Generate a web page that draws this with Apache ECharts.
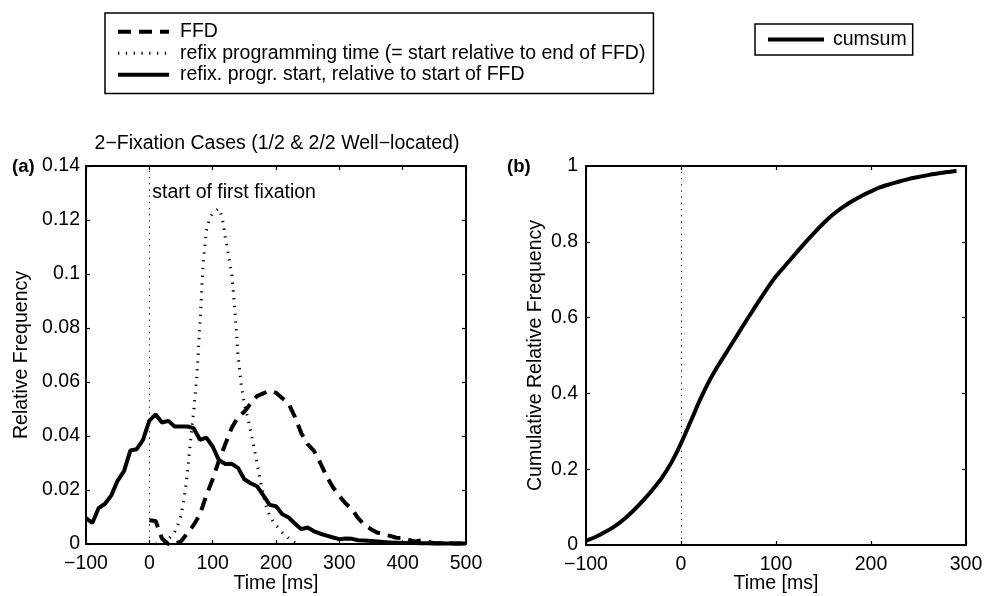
<!DOCTYPE html>
<html>
<head>
<meta charset="utf-8">
<script src="https://cdn.jsdelivr.net/npm/echarts@6/dist/echarts.min.js"></script>
<style>
html, body { margin: 0; padding: 0; background: #fff; }
#chart { width: 986px; height: 596px; }
</style>
</head>
<body>
<div id="chart"></div>
<script>
// Time bins (ms) for the refixation start distribution, relative to FFD onset
const startTimes = [-100, -90, -80, -70, -60, -50, -40, -30, -20, -10,
  0, 10, 20, 30, 40, 50, 60, 70, 80, 90,
  100, 110, 120, 130, 140, 150, 160, 170, 180, 190,
  200, 210, 220, 230, 240, 250, 260, 270, 280, 290,
  300, 310, 320, 330, 340, 350, 360, 370, 380, 390,
  400, 410, 420, 430, 440, 450, 460, 470, 480, 490, 500];
const refixStartFreq = [0.0096, 0.0078, 0.0133, 0.0149, 0.018, 0.0235, 0.027, 0.0346, 0.0351, 0.0386,
  0.0457, 0.048, 0.045, 0.0456, 0.0435, 0.0435, 0.0435, 0.0429, 0.0386, 0.0394,
  0.0361, 0.031, 0.0296, 0.0297, 0.0282, 0.024, 0.0225, 0.0214, 0.018, 0.0145,
  0.014, 0.011, 0.0098, 0.0075, 0.0055, 0.0061, 0.0047, 0.0038, 0.0031, 0.0024,
  0.0018, 0.002, 0.0019, 0.0014, 0.0013, 0.0011, 0.0009, 0.0007, 0.0006, 0.0005,
  0.0004, 0.0004, 0.0004, 0.0003, 0.0003, 0.0002, 0.0003, 0.0002, 0.0002, 0.0002, 0.0002];

// First fixation duration distribution
const ffdTimes = [0, 10, 20, 30, 40, 50, 60, 70, 80, 90,
  100, 110, 120, 130, 140, 150, 160, 170, 180, 190,
  200, 210, 220, 230, 240, 250, 260, 270, 280, 290,
  300, 310, 320, 330, 340, 350, 360, 370, 380, 390,
  400, 410, 420, 430, 440, 450, 460, 470, 480, 490, 500];
const ffdFreq = [0.0088, 0.0085, 0.002, 0, 0, 0.001, 0.004, 0.007, 0.011, 0.018,
  0.024, 0.031, 0.037, 0.043, 0.047, 0.049, 0.052, 0.0548, 0.0558, 0.0568,
  0.056, 0.054, 0.052, 0.047, 0.041, 0.037, 0.0345, 0.03, 0.025, 0.021,
  0.0178, 0.015, 0.0128, 0.0095, 0.007, 0.0055, 0.0042, 0.0035, 0.003, 0.0023,
  0.0022, 0.0015, 0.0009, 0.0014, 0.0008, 0.0003, 0.0003, 0.0004, 0.0002, 0.0002, 0.0002];

// Refixation programming time (start relative to end of FFD)
const progTimes = [10, 15, 20, 25, 30, 35, 40, 45, 50, 55,
  60, 65, 70, 75, 80, 85, 90, 95, 100, 105,
  110, 115, 120, 125, 130, 135, 140, 145, 150, 155,
  160, 165, 170, 175, 180, 185, 190, 195, 200, 205,
  210, 215, 220, 225, 230, 235, 240];
const progFreq = [0, 0, 0.0005, 0.001, 0.0018, 0.003, 0.0045, 0.007, 0.0105, 0.017,
  0.026, 0.038, 0.049, 0.062, 0.082, 0.104, 0.116, 0.1205, 0.1225, 0.1235,
  0.1242, 0.121, 0.1135, 0.107, 0.1, 0.087, 0.07, 0.059, 0.052, 0.047,
  0.042, 0.036, 0.03, 0.0238, 0.018, 0.0135, 0.0105, 0.0085, 0.007, 0.0055,
  0.0042, 0.0032, 0.0022, 0.0013, 0.0005, 0, 0];

// Cumulative distribution of refixation programming start
const cumTimes = [-100, -90, -80, -70, -60, -50, -40, -30, -20, -10,
  0, 10, 20, 30, 40, 50, 60, 70, 80, 90,
  100, 110, 120, 130, 140, 150, 160, 170, 180, 190,
  200, 210, 220, 230, 240, 250, 260, 270, 280, 290];
const cumFreq = [0.011, 0.021, 0.034, 0.049, 0.068, 0.091, 0.117, 0.146, 0.178, 0.218,
  0.268, 0.325, 0.383, 0.434, 0.477, 0.517, 0.557, 0.597, 0.636, 0.674,
  0.709, 0.738, 0.767, 0.796, 0.823, 0.849, 0.872, 0.891, 0.907, 0.921,
  0.933, 0.944, 0.952, 0.959, 0.966, 0.971, 0.976, 0.98, 0.984, 0.987];

const fixationStart = 0;
const fixationLabelY = 0.13;
const fixationText = 'start of first fixation';
const timeAxisTitle = 'Time [ms]';
const seriesNames = ['FFD', 'refix programming time (= start relative to end of FFD)',
  'refix. progr. start, relative to start of FFD', 'cumsum'];

const FONT = '"Liberation Sans", Arial, Helvetica, sans-serif';
const FS = 19.5;
const minus = v => String(v).replace('-', '\u2212');
const zip = (xs, ys) => xs.map((x, i) => [x, ys[i]]);

// Line styles shared by the plotted curves and their legend samples
const dashedStyle = { color: '#000', width: 4, type: [13, 8], cap: 'butt' };
const dottedStyle = { color: '#000', width: 3, type: [1.3, 6.5], cap: 'butt' };
const solidStyle = { color: '#000', width: 4, type: 'solid' };

function boxAxis(common, extra) {
  return Object.assign({
    type: 'value',
    axisLine: { show: true, onZero: false, lineStyle: { color: '#000', width: 2 } },
    axisTick: { show: true, inside: true, length: 4, lineStyle: { color: '#000', width: 1.2 } },
    splitLine: { show: false },
    axisLabel: { show: false }
  }, common, extra);
}
const labelStyle = { show: true, color: '#000', fontFamily: FONT, fontSize: FS, formatter: minus };
const nameStyle = { color: '#000', fontFamily: FONT, fontSize: FS };

const xA = { min: -100, max: 500, interval: 100 };
const yA = { min: 0, max: 0.14, interval: 0.02 };
const xB = { min: -100, max: 300, interval: 100 };
const yB = { min: 0, max: 1, interval: 0.2 };

const legendBase = {
  orient: 'vertical', itemGap: 0, itemHeight: 14,
  borderColor: '#000', borderWidth: 1.5, backgroundColor: '#fff',
  selectedMode: false,
  itemStyle: { color: 'rgba(0,0,0,0)', borderWidth: 0 }
};

const textEl = (text, x, y, font, align) => ({
  type: 'text', x: x, y: y,
  style: { text: text, fill: '#000', font: font, textAlign: align, textVerticalAlign: 'middle' }
});

const chart = echarts.init(document.getElementById('chart'), null, { renderer: 'canvas' });
chart.setOption({
  animation: false,
  backgroundColor: '#fff',
  grid: [
    { left: 86, top: 166, width: 380, height: 378, containLabel: false, outerBoundsMode: 'none' },
    { left: 586, top: 166, width: 380, height: 379, containLabel: false, outerBoundsMode: 'none' }
  ],
  xAxis: [
    boxAxis(xA, { gridIndex: 0, position: 'bottom', axisLabel: Object.assign({ margin: 10 }, labelStyle) }),
    boxAxis(xA, { gridIndex: 0, position: 'top' }),
    boxAxis(xB, { gridIndex: 1, position: 'bottom', axisLabel: Object.assign({ margin: 10 }, labelStyle) }),
    boxAxis(xB, { gridIndex: 1, position: 'top' })
  ],
  yAxis: [
    boxAxis(yA, { gridIndex: 0, position: 'left', axisLabel: Object.assign({ margin: 6 }, labelStyle),
      name: 'Relative Frequency', nameLocation: 'middle', nameGap: 54, nameTextStyle: nameStyle }),
    boxAxis(yA, { gridIndex: 0, position: 'right' }),
    boxAxis(yB, { gridIndex: 1, position: 'left', axisLabel: Object.assign({ margin: 8 }, labelStyle),
      name: 'Cumulative Relative Frequency', nameLocation: 'middle', nameGap: 40, nameTextStyle: nameStyle }),
    boxAxis(yB, { gridIndex: 1, position: 'right' })
  ],
  legend: [
    Object.assign({}, legendBase, {
      left: 105, top: 13,
      data: [
        { name: seriesNames[0], lineStyle: dashedStyle },
        { name: seriesNames[1], lineStyle: dottedStyle },
        { name: seriesNames[2], lineStyle: solidStyle }
      ],
      itemWidth: 51,
      padding: [8, 8, 8, 11],
      textStyle: { color: '#000', fontFamily: FONT, fontSize: FS, lineHeight: 21.5, padding: [0, 0, 0, 6] }
    }),
    Object.assign({}, legendBase, {
      left: 755, top: 24,
      data: [{ name: seriesNames[3], lineStyle: solidStyle }],
      itemWidth: 56,
      padding: [5, 6, 5, 11],
      textStyle: { color: '#000', fontFamily: FONT, fontSize: FS, lineHeight: 21, padding: [0, 0, 0, 4] }
    })
  ],
  graphic: [
    textEl('2\u2212Fixation Cases (1/2 & 2/2 Well\u2212located)', 277, 144, FS + 'px ' + FONT, 'center'),
    textEl('(a)', 12, 167, 'bold 18.5px ' + FONT, 'left'),
    textEl('(b)', 507, 167, 'bold 18.5px ' + FONT, 'left'),
    textEl(timeAxisTitle, 276, 584, FS + 'px ' + FONT, 'center'),
    textEl(timeAxisTitle, 776, 584, FS + 'px ' + FONT, 'center')
  ],
  series: [
    {
      name: seriesNames[0], type: 'line', xAxisIndex: 0, yAxisIndex: 0,
      data: zip(ffdTimes, ffdFreq), symbol: 'none', showSymbol: false,
      lineStyle: dashedStyle, itemStyle: { color: '#000' }, z: 3
    },
    {
      name: seriesNames[1], type: 'line', xAxisIndex: 0, yAxisIndex: 0,
      data: zip(progTimes, progFreq), symbol: 'none', showSymbol: false,
      lineStyle: dottedStyle, itemStyle: { color: '#000' }, z: 2
    },
    {
      name: seriesNames[2], type: 'line', xAxisIndex: 0, yAxisIndex: 0,
      data: zip(startTimes, refixStartFreq), symbol: 'none', showSymbol: false,
      lineStyle: solidStyle, itemStyle: { color: '#000' }, z: 4
    },
    {
      type: 'scatter', xAxisIndex: 0, yAxisIndex: 0, silent: true,
      data: [[fixationStart, fixationLabelY]], symbolSize: 0,
      itemStyle: { opacity: 1, color: '#000' },
      label: { show: true, position: 'right', distance: 3, formatter: fixationText,
        color: '#000', fontFamily: FONT, fontSize: FS },
      markLine: { symbol: 'none', silent: true, label: { show: false },
        lineStyle: { color: '#000', width: 1, type: [1.2, 5] },
        data: [{ xAxis: fixationStart }] }
    },
    {
      name: seriesNames[3], type: 'line', xAxisIndex: 2, yAxisIndex: 2,
      data: zip(cumTimes, cumFreq), symbol: 'none', showSymbol: false, smooth: 0.3,
      lineStyle: solidStyle, itemStyle: { color: '#000' }, z: 4,
      markLine: { symbol: 'none', silent: true, label: { show: false },
        lineStyle: { color: '#000', width: 1, type: [1.2, 5] },
        data: [{ xAxis: fixationStart }] }
    }
  ]
});
</script>
</body>
</html>
